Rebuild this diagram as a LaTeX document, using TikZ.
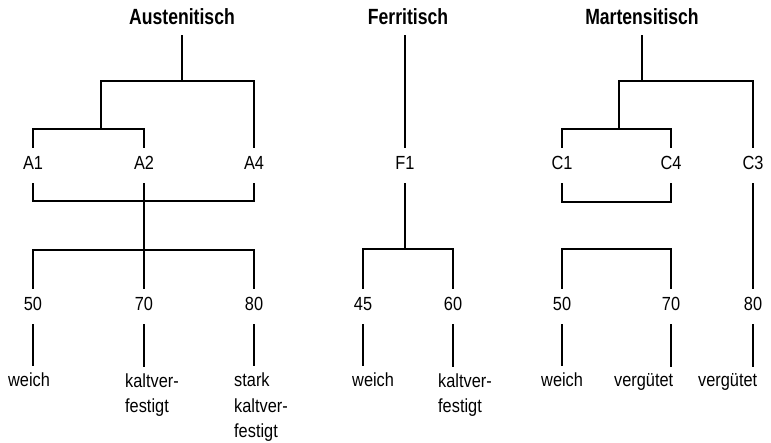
\documentclass[tikz,border=0pt]{standalone}
\usepackage{fontspec}
\setmainfont[FakeStretch=0.86]{Liberation Sans}
\newfontfamily\headfont[FakeStretch=0.8]{Liberation Sans}
\usetikzlibrary{calc}
\tikzset{
	head/.style={font=\headfont\bfseries\fontsize{22}{26}\selectfont,anchor=base,
		inner xsep=0pt,inner ysep=6pt,text height=16pt,text depth=4pt},
	grade/.style={font=\fontsize{19}{25}\selectfont,anchor=base,
		inner xsep=0pt,inner ysep=9pt,text height=13pt,text depth=4pt},
	leaf/.style={font=\fontsize{19}{25.5}\selectfont,anchor=base west,align=left,
		inner xsep=0pt,inner ysep=7pt},
	link/.style={draw=black,line width=2.4pt},
}

\begin{document}
\begin{tikzpicture}[x=1pt,y=1pt]
			\useasboundingbox (0,0) rectangle (771,443);
			\begin{scope}
				\coordinate (ja) at (182,362);
				\coordinate (ka) at (101,314);
				\coordinate (la) at (144,242);
				\coordinate (ma) at (144,193);
				\node[head] (ta) at (182,418) {Austenitisch};
				\node[grade] (a1) at (33,273) {A1};
				\node[grade] (a2) at (144,273) {A2};
				\node[grade] (a4) at (254,273) {A4};
				\node[grade] (n50) at (33,132) {50};
				\node[grade] (n70) at (144,132) {70};
				\node[grade] (n80) at (254,132) {80};
				\node[leaf] (w50) at (8,56) {weich};
				\node[leaf] (k70) at (125,30) {kaltver-\\festigt};
				\node[leaf] (s80) at (234,5) {stark\\kaltver-\\festigt};
				\draw[link] (ta.south) -- (ja);
				\draw[link] (ka) |- (ja) -| (a4.north);
				\draw[link] (a1.north) |- (ka) -| (a2.north);
				\draw[link] (a1.south) |- (la) -| (a4.south);
				\draw[link] (a2.south) -- (n70.north);
				\draw[link] (n50.north) |- (ma) -| (n80.north);
			\end{scope}
			\begin{scope}
				\coordinate (mf) at (405,194);
				\node[head] (tf) at (408,418) {Ferritisch};
				\node[grade] (f1) at (405,273) {F1};
				\node[grade] (f45) at (363,132) {45};
				\node[grade] (f60) at (453,132) {60};
				\node[leaf] (w45) at (352,56) {weich};
				\node[leaf] (k60) at (438,30) {kaltver-\\festigt};
				\draw[link] (f1.north |- tf.south) -- (f1.north);
				\draw[link] (f1.south) -- (mf);
				\draw[link] (f45.north) |- (mf) -| (f60.north);
			\end{scope}
			\begin{scope}
				\coordinate (jm) at (642,362);
				\coordinate (km) at (619,314);
				\coordinate (lm) at (616,241);
				\coordinate (mm) at (616,194);
				\node[head] (tm) at (642,418) {Martensitisch};
				\node[grade] (c1) at (562,273) {C1};
				\node[grade] (c4) at (671,273) {C4};
				\node[grade] (c3) at (753,273) {C3};
				\node[grade] (m50) at (562,132) {50};
				\node[grade] (m70) at (671,132) {70};
				\node[grade] (m80) at (753,132) {80};
				\node[leaf] (wm50) at (541,56) {weich};
				\node[leaf] (vm70) at (614,56) {vergütet};
				\node[leaf] (vm80) at (698,56) {vergütet};
				\draw[link] (tm.south) -- (jm);
				\draw[link] (km) |- (jm) -| (c3.north);
				\draw[link] (c1.north) |- (km) -| (c4.north);
				\draw[link] (c1.south) |- (lm) -| (c4.south);
				\draw[link] (c3.south) -- (m80.north);
				\draw[link] (m50.north) |- (mm) -| (m70.north);
			\end{scope}
			\foreach \g/\l in {n50/w50,n70/k70,n80/s80,f45/w45,f60/k60,m50/wm50,m70/vm70,m80/vm80}
				\draw[link] (\g.south) -- (\g.south |- \l.north);
		\end{tikzpicture}
\end{document}
